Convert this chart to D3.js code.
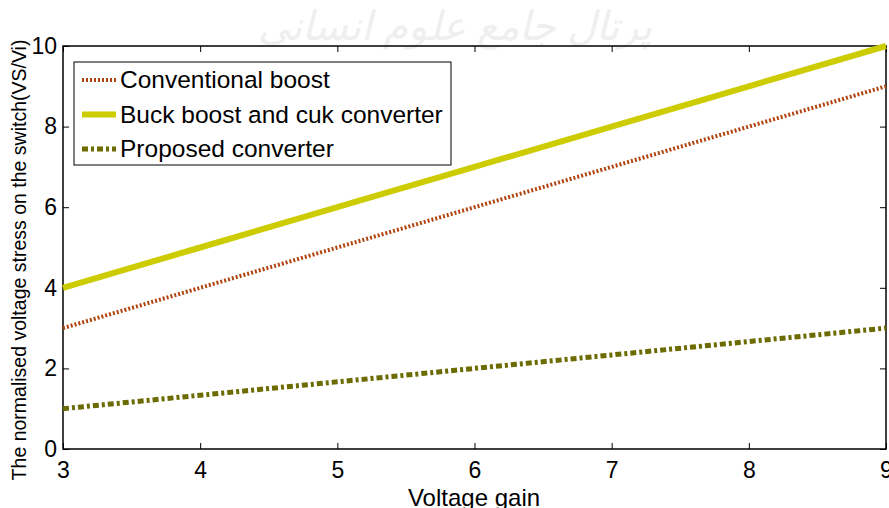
<!DOCTYPE html>
<html>
<head>
<meta charset="utf-8">
<script src="https://cdn.jsdelivr.net/npm/d3@7"></script>
<style>
  body { margin: 0; background: #fff; }
  svg { display: block; font-family: "Liberation Sans", Arial, sans-serif; }
</style>
</head>
<body>
<svg id="chart" width="889" height="508"></svg>
<script>
// data
let gain = [3, 4, 5, 6, 7, 8, 9];
let conventional = [3, 4, 5, 6, 7, 8, 9];
let buckBoost = [4, 5, 6, 7, 8, 9, 10];
let proposed = [1, 4 / 3, 5 / 3, 2, 7 / 3, 8 / 3, 3];
let xTicks = [3, 4, 5, 6, 7, 8, 9];
let yTicks = [0, 2, 4, 6, 8, 10];

let series = [
    { name: "Conventional boost", values: conventional, color: "#b0440f", width: 4, dash: "2,2" },
    { name: "Buck boost and cuk converter", values: buckBoost, color: "#cccc00", width: 6, dash: null },
    { name: "Proposed converter", values: proposed, color: "#6b6b00", width: 5, dash: "6,3,3,3" }
];

let svg = d3.select("#chart");
let pLeft = 63, pRight = 886, pTop = 46, pBottom = 449;

let x = d3.scaleLinear().domain([3, 9]).range([pLeft, pRight]);
let y = d3.scaleLinear().domain([0, 10]).range([pBottom, pTop]);

// faint watermark
svg.append("text")
    .attr("x", 455).attr("y", 40)
    .attr("text-anchor", "middle")
    .attr("font-size", 40)
    .attr("font-style", "italic")
    .attr("fill", "#efefef")
    .attr("direction", "rtl")
    .text("پرتال جامع علوم انسانی");

// axes box
svg.append("rect")
    .attr("x", pLeft).attr("y", pTop)
    .attr("width", pRight - pLeft).attr("height", pBottom - pTop)
    .attr("fill", "none").attr("stroke", "#000").attr("stroke-width", 1.5);

let fmt = d3.format("d");
let xAxis = svg.append("g").attr("transform", `translate(0,${pBottom})`)
    .call(d3.axisBottom(x).tickValues(xTicks).tickSize(-6).tickPadding(13).tickFormat(fmt));
let xTop = svg.append("g").attr("transform", `translate(0,${pTop})`)
    .call(d3.axisTop(x).tickValues(xTicks).tickSize(-6).tickFormat(""));
let yAxis = svg.append("g").attr("transform", `translate(${pLeft},0)`)
    .call(d3.axisLeft(y).tickValues(yTicks).tickSize(-6).tickPadding(6).tickFormat(fmt));
let yRight = svg.append("g").attr("transform", `translate(${pRight},0)`)
    .call(d3.axisRight(y).tickValues(yTicks).tickSize(-6).tickFormat(""));

[xAxis, xTop, yAxis, yRight].forEach(g => {
    g.select(".domain").remove();
    g.selectAll("line").attr("stroke", "#000").attr("stroke-width", 1);
    g.selectAll("text").attr("font-size", 23).attr("fill", "#000")
        .attr("font-family", "Liberation Sans, Arial, sans-serif");
});

// lines
let line = d3.line().x((d, i) => x(gain[i])).y(d => y(d));
series.forEach(s => {
    svg.append("path")
        .datum(s.values)
        .attr("d", line)
        .attr("fill", "none")
        .attr("stroke", s.color)
        .attr("stroke-width", s.width)
        .attr("stroke-dasharray", s.dash);
});

// legend
let legend = svg.append("g");
legend.append("rect")
    .attr("x", 74).attr("y", 62).attr("width", 377).attr("height", 103)
    .attr("fill", "#fff").attr("stroke", "#000").attr("stroke-width", 1);
series.forEach((s, i) => {
    let ly = 80 + i * 34.5;
    legend.append("line")
        .attr("x1", 82).attr("x2", 116).attr("y1", ly).attr("y2", ly)
        .attr("stroke", s.color).attr("stroke-width", s.width)
        .attr("stroke-dasharray", s.dash);
    legend.append("text")
        .attr("x", 120).attr("y", ly + 8)
        .attr("font-size", 24.5)
        .text(s.name);
});

// axis titles
svg.append("text")
    .attr("x", 474).attr("y", 506)
    .attr("text-anchor", "middle")
    .attr("font-size", 24)
    .text("Voltage gain");

svg.append("text")
    .attr("transform", `translate(26,260) rotate(-90)`)
    .attr("text-anchor", "middle")
    .attr("font-size", 19.5)
    .text("The normalised voltage stress on  the switch(VS/Vi)");
</script>
</body>
</html>
